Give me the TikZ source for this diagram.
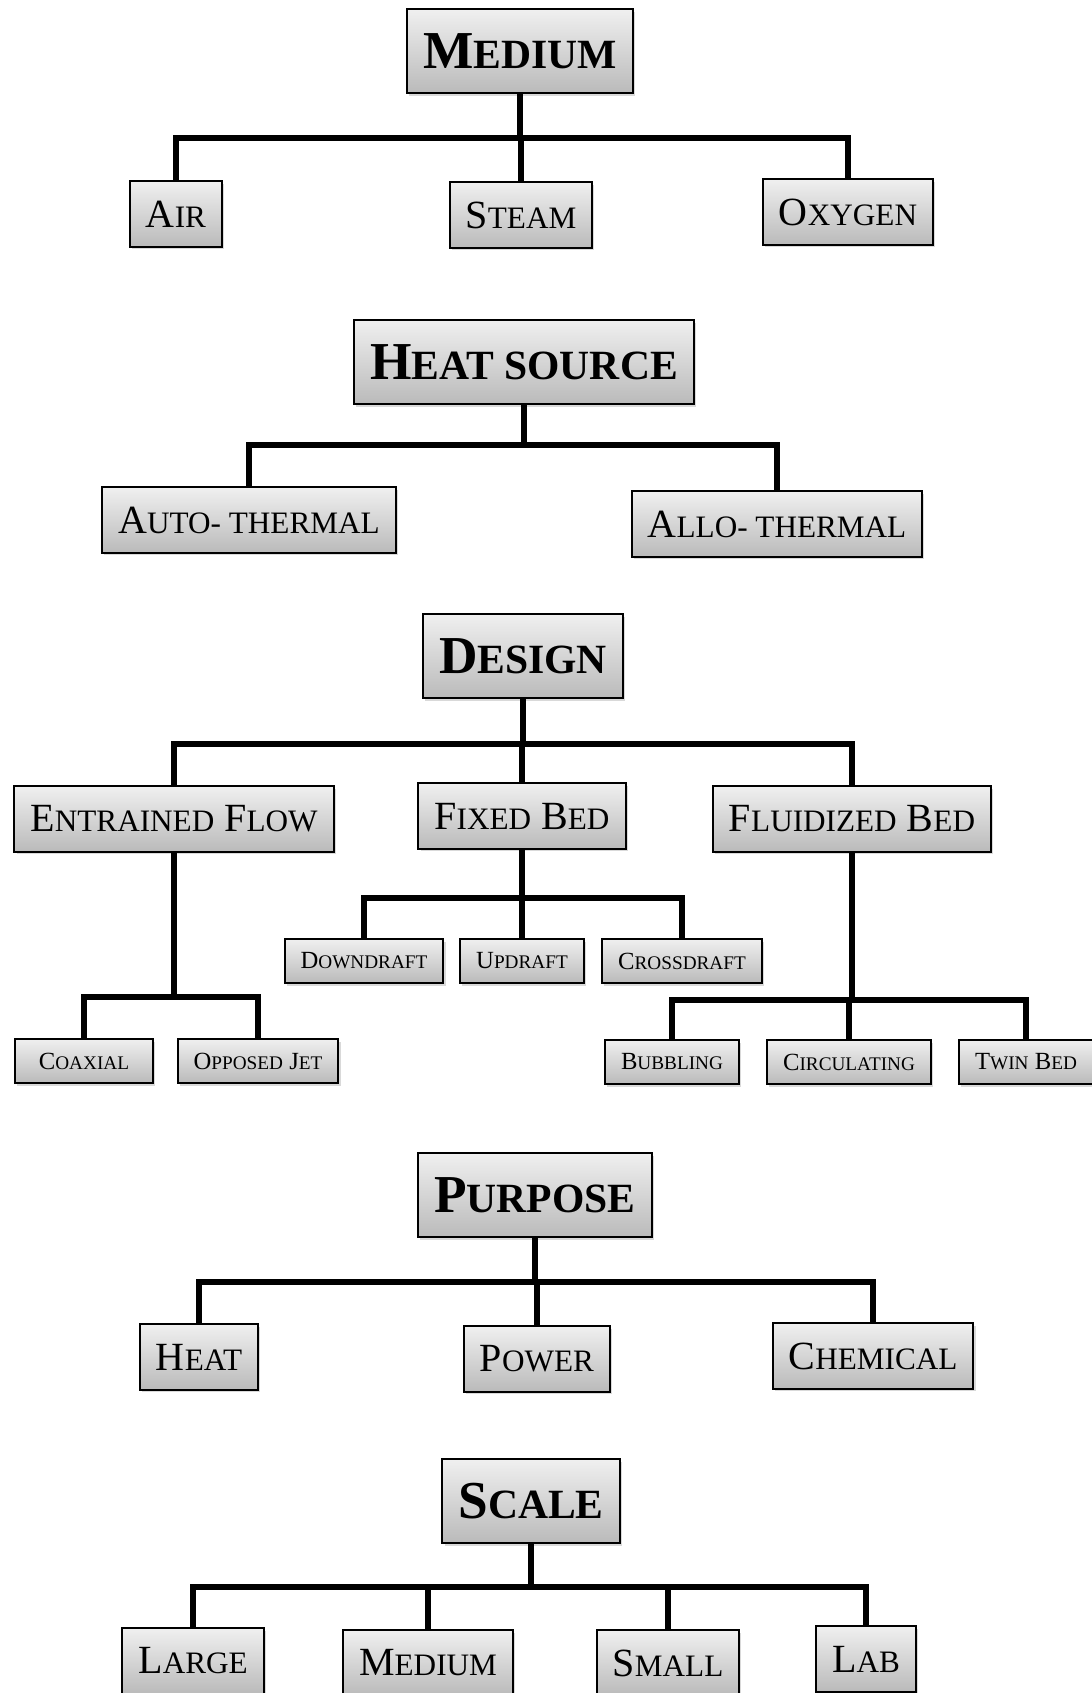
\documentclass[tikz,border=0pt]{standalone}
\usepackage{fontspec}
\setmainfont{Liberation Serif}
\usepackage{graphicx}
\usepackage{tikz}
\usetikzlibrary{shadows}

% fake small caps: rest of word in reduced capitals
\newcommand{\sct}[1]{\scalebox{0.78}{\MakeUppercase{#1}}}

\begin{document}
\begin{tikzpicture}[
    x=0.75pt, y=-0.75pt,
    box/.style={draw, line width=1.5pt, top color=black!6, bottom color=black!27,
        drop shadow={shadow xshift=1.6pt, shadow yshift=-2pt, opacity=0.3},
        inner xsep=12pt, inner ysep=0pt, anchor=center},
    headbox/.style={box, minimum height=63pt, font=\fontsize{40}{48}\selectfont\bfseries},
    itembox/.style={box, minimum height=49pt, font=\fontsize{30}{36}\selectfont},
    subbox/.style={box, minimum height=33pt, font=\fontsize{18.5}{22}\selectfont},
    link/.style={line width=4.3pt}
]
\useasboundingbox (0,0) rectangle (1092,1693);

% --- medium ---
\node[headbox] (med) at (520,51) {M\sct{edium}};
\node[itembox] (air) at (176,214) {A\sct{ir}};
\node[itembox] (steam) at (521,215) {S\sct{team}};
\node[itembox] (oxy) at (848,212) {O\sct{xygen}};
\coordinate (medbus) at (520,138);

% --- heat source ---
\node[headbox] (heat) at (524,362) {H\sct{eat source}};
\node[itembox] (auto) at (249,520) {A\sct{uto- thermal}};
\node[itembox] (allo) at (777,524) {A\sct{llo- thermal}};
\coordinate (heatbus) at (524,445);

% --- design ---
\node[headbox] (design) at (523,656) {D\sct{esign}};
\node[itembox] (entr) at (174,819) {E\sct{ntrained} F\sct{low}};
\node[itembox] (fixed) at (522,816) {F\sct{ixed} B\sct{ed}};
\node[itembox] (fluid) at (852,819) {F\sct{luidized} B\sct{ed}};
\coordinate (designbus) at (523,744);

\node[subbox] (down) at (364,961) {D\sct{owndraft}};
\node[subbox] (up) at (522,961) {U\sct{pdraft}};
\node[subbox] (cross) at (682,961) {C\sct{rossdraft}};
\coordinate (fixedbus) at (522,898);

\node[subbox, minimum width=104pt] (coax) at (84,1061) {C\sct{oaxial}};
\node[subbox] (opp) at (258,1061) {O\sct{pposed} J\sct{et}};
\coordinate (entrbus) at (174,997);

\node[subbox] (bubb) at (672,1062) {B\sct{ubbling}};
\node[subbox] (circ) at (849,1062) {C\sct{irculating}};
\node[subbox] (twin) at (1026,1062) {T\sct{win} B\sct{ed}};
\coordinate (fluidbus) at (850,1000);

% --- purpose ---
\node[headbox] (purp) at (535,1195) {P\sct{urpose}};
\node[itembox] (heatp) at (199,1357) {H\sct{eat}};
\node[itembox] (power) at (537,1359) {P\sct{ower}};
\node[itembox] (chem) at (873,1356) {C\sct{hemical}};
\coordinate (purpbus) at (534,1282);

% --- scale ---
\node[headbox] (scale) at (531,1501) {S\sct{cale}};
\node[itembox] (large) at (193,1661) {L\sct{arge}};
\node[itembox] (medsc) at (428,1663) {M\sct{edium}};
\node[itembox] (small) at (668,1663) {S\sct{mall}};
\node[itembox] (lab) at (866,1659) {L\sct{ab}};
\coordinate (scalebus) at (529,1587);

% connectors
\draw[link] (med.south) -- (med.south |- medbus);
\foreach \c in {air,steam,oxy} \draw[link] (medbus) -| (\c.north);
\draw[link] (heat.south) -- (heat.south |- heatbus);
\foreach \c in {auto,allo} \draw[link] (heatbus) -| (\c.north);
\draw[link] (design.south) -- (design.south |- designbus);
\foreach \c in {entr,fixed,fluid} \draw[link] (designbus) -| (\c.north);
\draw[link] (fixed.south) -- (fixedbus);
\foreach \c in {down,up,cross} \draw[link] (fixedbus) -| (\c.north);
\draw[link] (entr.south) -- (entrbus);
\foreach \c in {coax,opp} \draw[link] (entrbus) -| (\c.north);
\draw[link] (fluid.south) -- (fluid.south |- fluidbus);
\foreach \c in {bubb,circ,twin} \draw[link] (fluid.south |- fluidbus) -| (\c.north);
\draw[link] (purp.south) -- (purp.south |- purpbus);
\foreach \c in {heatp,power,chem} \draw[link] (purp.south |- purpbus) -| (\c.north);
\draw[link] (scale.south) -- (scale.south |- scalebus);
\foreach \c in {large,medsc,small,lab} \draw[link] (scale.south |- scalebus) -| (\c.north);

\end{tikzpicture}
\end{document}
